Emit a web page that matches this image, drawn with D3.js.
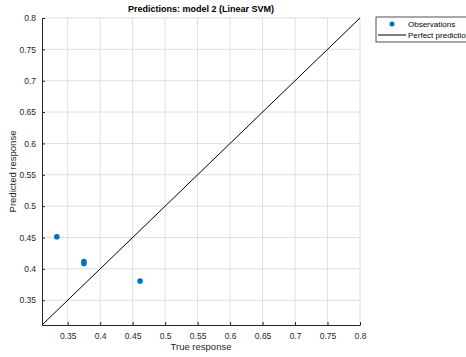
<!DOCTYPE html>
<html>
<head>
<meta charset="utf-8">
<script src="https://d3js.org/d3.v7.min.js"></script>
<style>
body { margin: 0; background: #fff; }
text { font-family: "Liberation Sans", Arial, sans-serif; }
</style>
</head>
<body>
<div id="chart"></div>
<script>
// data
var trueResp = [0.3333, 0.375, 0.375, 0.4615];
var predResp = [0.4513, 0.4115, 0.4085, 0.3805];
var xTicks = [0.35, 0.4, 0.45, 0.5, 0.55, 0.6, 0.65, 0.7, 0.75, 0.8];
var yTicks = [0.35, 0.4, 0.45, 0.5, 0.55, 0.6, 0.65, 0.7, 0.75, 0.8];
var lo = 0.3105, hi = 0.8;
var legendItems = ["Observations", "Perfect prediction"];

var W = 466, H = 357;
var margin = {top: 18, left: 42, right: 106, bottom: 32};

var svg = d3.select("#chart").append("svg")
  .attr("width", W).attr("height", H);

var x = d3.scaleLinear().domain([lo, hi]).range([margin.left, W - margin.right]);
var y = d3.scaleLinear().domain([lo, hi]).range([H - margin.bottom, margin.top]);

// grid
svg.append("g").selectAll("line.gx").data(xTicks).join("line")
  .attr("x1", d => x(d)).attr("x2", d => x(d))
  .attr("y1", y(lo)).attr("y2", y(hi))
  .attr("stroke", "#dfdfdf").attr("stroke-width", 1);
svg.append("g").selectAll("line.gy").data(yTicks).join("line")
  .attr("x1", x(lo)).attr("x2", x(hi))
  .attr("y1", d => y(d)).attr("y2", d => y(d))
  .attr("stroke", "#dfdfdf").attr("stroke-width", 1);

// axes (ticks pointing inward)
var xAxis = svg.append("g")
  .attr("transform", `translate(0,${y(lo)})`)
  .call(d3.axisBottom(x).tickValues(xTicks).tickSizeInner(-3).tickSizeOuter(0).tickPadding(8).tickFormat(d3.format("")));
var yAxis = svg.append("g")
  .attr("transform", `translate(${x(lo)},0)`)
  .call(d3.axisLeft(y).tickValues(yTicks).tickSizeInner(-3).tickSizeOuter(0).tickPadding(6).tickFormat(d3.format("")));
[xAxis, yAxis].forEach(a => {
  a.select(".domain").attr("stroke", "#262626");
  a.selectAll(".tick line").attr("stroke", "#262626");
  a.selectAll(".tick text").attr("fill", "#262626").style("font-size", "8.5px")
    .style("font-family", "'Liberation Sans', Arial, sans-serif");
});

// perfect prediction line
svg.append("line")
  .attr("x1", x(lo)).attr("y1", y(lo))
  .attr("x2", x(hi)).attr("y2", y(hi))
  .attr("stroke", "#000").attr("stroke-width", 1);

// observations
svg.append("g").selectAll("circle").data(trueResp).join("circle")
  .attr("cx", d => x(d))
  .attr("cy", (d, i) => y(predResp[i]))
  .attr("r", 2.8)
  .attr("fill", "#0072BD");

// title and labels
svg.append("text")
  .attr("x", (x(lo) + x(hi)) / 2).attr("y", 12)
  .attr("text-anchor", "middle")
  .style("font-size", "9px").style("font-weight", "bold")
  .attr("fill", "#000")
  .text("Predictions: model 2 (Linear SVM)");
svg.append("text")
  .attr("x", (x(lo) + x(hi)) / 2).attr("y", 350)
  .attr("text-anchor", "middle")
  .style("font-size", "9.5px").attr("fill", "#262626")
  .text("True response");
svg.append("text")
  .attr("transform", `translate(16,${(y(lo) + y(hi)) / 2}) rotate(-90)`)
  .attr("text-anchor", "middle")
  .style("font-size", "9.5px").attr("fill", "#262626")
  .text("Predicted response");

// legend
var lg = svg.append("g").attr("transform", "translate(376,17)");
lg.append("rect")
  .attr("x", 0).attr("y", 0).attr("width", 100).attr("height", 25)
  .attr("fill", "#fff").attr("stroke", "#262626").attr("stroke-width", 0.8);
lg.append("circle").attr("cx", 16).attr("cy", 7).attr("r", 2.5).attr("fill", "#0072BD");
lg.append("line").attr("x1", 2).attr("x2", 30).attr("y1", 18).attr("y2", 18)
  .attr("stroke", "#000").attr("stroke-width", 1);
lg.selectAll("text").data(legendItems).join("text")
  .attr("x", 32).attr("y", (d, i) => 10 + i * 11)
  .style("font-size", "8px").attr("fill", "#000")
  .text(d => d);
</script>
</body>
</html>
